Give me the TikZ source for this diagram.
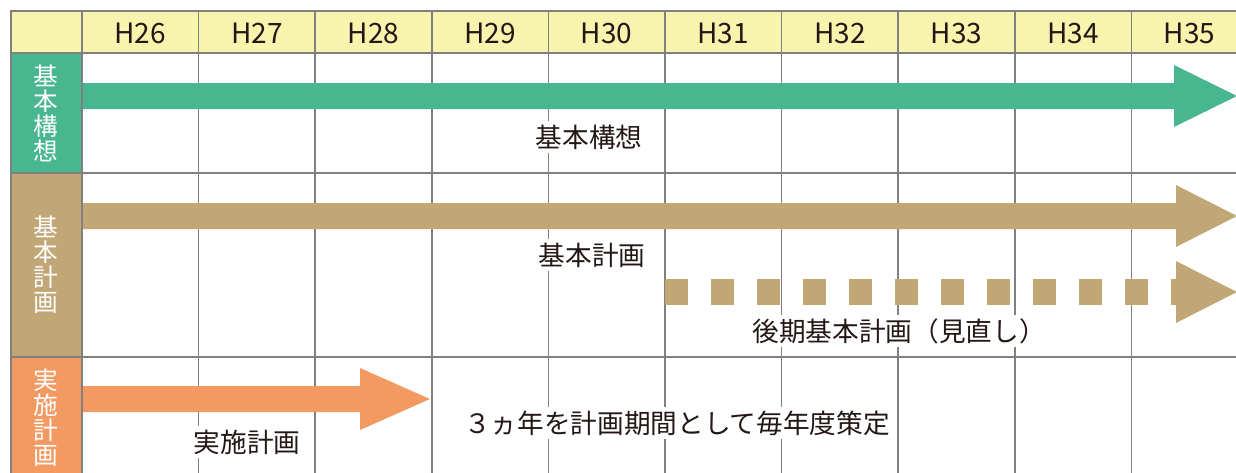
\documentclass[tikz,border=0pt]{standalone}
\usepackage{fontspec}
\setmainfont{Noto Sans CJK JP}
\definecolor{gridgray}{HTML}{808080}
\definecolor{headyellow}{HTML}{F7F4AE}
\definecolor{kgreen}{HTML}{48B790}
\definecolor{ktan}{HTML}{C1A676}
\definecolor{korange}{HTML}{F39A62}
\definecolor{ink}{HTML}{231815}
\newcommand{\blockarrow}[5]{%
  \fill[#5] ({#1},{#4-13}) -- ({#2},{#4-13}) -- ({#2},{#4-31}) -- ({#3},{#4}) -- ({#2},{#4+31}) -- ({#2},{#4+13}) -- ({#1},{#4+13}) -- cycle;}
\begin{document}
\begin{tikzpicture}[x=0.75pt,y=-0.75pt,
  gridline/.style={draw=gridgray,line width=1.2pt},
  yearlabel/.style={text=ink,font=\fontsize{21}{24}\selectfont,inner sep=0pt},
  sidelabel/.style={text=white,align=center,font=\fontsize{18.5}{18.8}\selectfont,inner sep=0pt},
  barlabel/.style={text=ink,fill=white,font=\fontsize{20}{24}\selectfont,inner sep=2.5pt}]
\useasboundingbox (0,0) rectangle (1236,472);
\begin{scope}
\clip (0,0) rectangle (1236,472);
% cell fills
\fill[headyellow] (11,11) rectangle (1250,53);
\fill[kgreen] (11,53) rectangle (82,173);
\fill[ktan] (11,173) rectangle (82,357);
\fill[korange] (11,357) rectangle (82,480);
% grid
\draw[gridline] (11,480) -- (11,11) -- (1250,11);
\foreach \y in {53,173,357} \draw[gridline] (11,\y) -- (1250,\y);
\foreach \i in {0,...,10} \draw[gridline] ({82+116.6*\i},11) -- ({82+116.6*\i},480);
% year headers
\foreach \yr [count=\i from 0] in {26,...,35}
  \node[yearlabel] (h\yr) at ({82+116.6*(\i+0.5)},33) {H\yr};
% side labels
\node[sidelabel] (s1) at (46,113) {基\\本\\構\\想};
\node[sidelabel] (s2) at (46,265) {基\\本\\計\\画};
\node[sidelabel] (s3) at (46,418) {実\\施\\計\\画};
% arrows
\blockarrow{83}{1174}{1237}{96}{kgreen}
\blockarrow{83}{1176}{1237}{216}{ktan}
\foreach \k in {0,...,11} \fill[ktan] ({665+46*\k},279) rectangle ({688+46*\k},305);
\fill[ktan] (1176,261) -- (1237,292) -- (1176,323) -- cycle;
\blockarrow{83}{360}{430}{399}{korange}
% labels
\node[barlabel] (l1) at (589,137) {基本構想};
\node[barlabel] (l2) at (592,255) {基本計画};
\node[barlabel] (l3) at (899,331) {後期基本計画（見直し）};
\node[barlabel] (l4) at (677,423) {３ヵ年を計画期間として毎年度策定};
\node[barlabel] (l5) at (247,442) {実施計画};
\end{scope}
\end{tikzpicture}
\end{document}
